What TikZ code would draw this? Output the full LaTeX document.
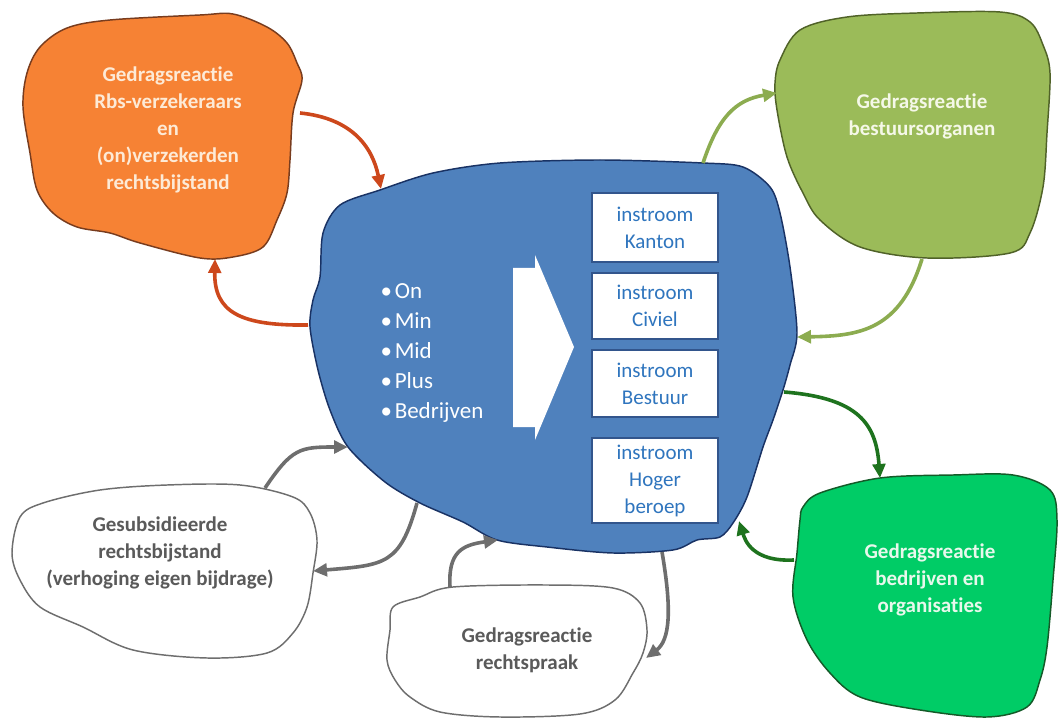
\documentclass[tikz,border=0pt]{standalone}
\usepackage{fontspec}
\setmainfont{Carlito}[Ligatures=NoCommon]
\usetikzlibrary{arrows.meta}
\definecolor{orFill}{RGB}{246,130,52}
\definecolor{orLine}{RGB}{120,60,30}
\definecolor{orText}{RGB}{253,234,214}
\definecolor{orArr}{RGB}{205,72,28}
\definecolor{olFill}{RGB}{155,187,89}
\definecolor{olLine}{RGB}{80,98,40}
\definecolor{olText}{RGB}{245,248,232}
\definecolor{olArr}{RGB}{140,172,80}
\definecolor{blFill}{RGB}{79,129,189}
\definecolor{blLine}{RGB}{25,50,100}
\definecolor{bxLine}{RGB}{50,85,140}
\definecolor{bxText}{RGB}{47,117,190}
\definecolor{grFill}{RGB}{0,204,102}
\definecolor{grLine}{RGB}{20,90,40}
\definecolor{grText}{RGB}{232,248,236}
\definecolor{grArr}{RGB}{30,115,30}
\definecolor{gyLine}{RGB}{110,110,110}
\definecolor{gyText}{RGB}{90,90,90}
\definecolor{gyArr}{RGB}{110,110,110}
\begin{document}
\begin{tikzpicture}[x=0.75pt,y=-0.75pt,
  blob/.style={line width=1.1pt},
  blobtxt/.style={align=center, font=\bfseries\fontsize{15.75}{20.25}\selectfont},
  inbox/.style={draw=bxLine, line width=1.2pt, fill=white, minimum width=94.5pt, inner sep=0pt, align=center, text=bxText, font=\fontsize{15.75}{20.25}\selectfont},
  conn/.style={line width=2.7pt, -{Triangle[length=10.5pt,width=9.5pt]}},
]
\useasboundingbox (0,0) rectangle (1060,720);
% ---------- blobs ----------
\path[blob, draw=orLine, fill=orFill] plot[smooth cycle, tension=0.55] coordinates {
 (40,47) (67,28) (110,20) (200,15) (233,14) (267,27) (287,43) (297,63) (302,80) (293,113)
 (290,160) (287,193) (277,220) (263,247) (233,257) (200,258) (140,243) (110,233) (77,227)
 (53,213) (37,190) (30,153) (23,107) (27,73)};
\path[blob, draw=olLine, fill=olFill] plot[smooth cycle, tension=0.55] coordinates {
 (780,60) (800,30) (847,17) (917,13) (1000,12) (1030,22) (1043,45) (1050,73) (1047,133) (1043,187)
 (1030,233) (1010,253) (927,258) (860,247) (820,220) (803,193) (787,157) (777,110) (775,83)};
\path[blob, draw=blLine, fill=blFill] plot[smooth cycle, tension=0.5] coordinates {
 (340,205) (380,190) (433,173) (500,163) (600,160) (703,163) (743,167) (770,187) (780,213)
 (790,267) (797,333) (790,365) (783,390) (773,420) (763,447) (747,497) (733,523) (720,537)
 (697,540) (673,550) (613,553) (547,547) (497,540) (463,522) (420,503) (385,482) (348,447)
 (330,410) (318,370) (310,327) (313,300) (320,277) (323,233)};
\path[blob, draw=grLine, fill=grFill] plot[smooth cycle, tension=0.55] coordinates {
 (803,507) (820,493) (880,478) (953,475) (1013,475) (1050,490) (1057,520) (1053,580)
 (1047,647) (1040,680) (1027,707) (987,717) (920,710) (860,697) (830,673) (807,640)
 (793,597) (797,553) (800,520)};
\path[blob, draw=gyLine, fill=white] plot[smooth cycle, tension=0.55] coordinates {
 (20,517) (43,503) (100,490) (167,485) (240,485) (293,497) (310,513) (317,540) (313,573)
 (307,607) (293,633) (267,653) (207,658) (133,650) (83,627) (40,607) (20,580) (12,553)};
\path[blob, draw=gyLine, fill=white] plot[smooth cycle, tension=0.55] coordinates {
 (393,607) (420,597) (453,587) (547,585) (613,588) (640,603) (647,630) (643,653) (633,673)
 (615,700) (580,714) (500,717) (440,712) (410,697) (395,680) (387,660) (390,630)};
% ---------- big arrow ----------
\path[fill=white] (513,268) -- (535,268) -- (535,255) -- (574,347) -- (535,440) -- (535,427) -- (513,427) -- cycle;
% ---------- texts ----------
\node[blobtxt, text=orText] (orT) at (168,130) {Gedragsreactie\\Rbs-verzekeraars\\en\\(on)verzekerden\\rechtsbijstand};
\node[blobtxt, text=olText] (olT) at (922,116) {Gedragsreactie\\bestuursorganen};
\node[blobtxt, text=grText] (grT) at (930,580) {Gedragsreactie\\bedrijven en\\organisaties};
\node[blobtxt, text=gyText] (gy1T) at (160,553) {Gesubsidieerde\\rechtsbijstand\\(verhoging eigen bijdrage)};
\node[blobtxt, text=gyText] (gy2T) at (527,650) {Gedragsreactie\\rechtspraak};
\node[align=left, text=white, font=\fontsize{17.25}{22.5}\selectfont] (list) at (432,353)
 {\textbullet\hspace{2pt}On\\\textbullet\hspace{2pt}Min\\\textbullet\hspace{2pt}Mid\\\textbullet\hspace{2pt}Plus\\\textbullet\hspace{2pt}Bedrijven};
\node[inbox, minimum height=51.75pt] (b1) at (655,227.5) {instroom\\Kanton};
\node[inbox, minimum height=49.5pt] (b2) at (655,306) {instroom\\Civiel};
\node[inbox, minimum height=50.25pt] (b3) at (655,383.5) {instroom\\Bestuur};
\node[inbox, minimum height=63.75pt] (b4) at (655,480.5) {instroom\\Hoger\\beroep};
% ---------- connector end points ----------
\coordinate (orE) at (300,113);
\coordinate (orS) at (215,259);
\coordinate (blNW) at (381,189);
\coordinate (blW) at (308,325);
\coordinate (blN) at (703,163);
\coordinate (olW) at (777,93);
\coordinate (olS) at (922,259);
\coordinate (blE) at (797,337);
\coordinate (blE2) at (784,392);
\coordinate (grN) at (880,478);
\coordinate (grW) at (794,560);
\coordinate (blSE) at (739,521);
\coordinate (gy1N) at (265,488);
\coordinate (blSW) at (348,447);
\coordinate (blS1) at (417,503);
\coordinate (gy1E) at (313,571);
\coordinate (gy2N) at (450,587);
\coordinate (blS2) at (498,540);
\coordinate (blS3) at (662,552);
\coordinate (gy2E) at (646,658);
% ---------- connectors ----------
\draw[conn, orArr] (orE) .. controls (350,118) and (372,145) .. (blNW);
\draw[conn, orArr] (blW) .. controls (240,326) and (214,312) .. (orS);
\draw[conn, olArr] (blN) .. controls (718,118) and (735,100) .. (olW);
\draw[conn, olArr] (olS) .. controls (900,330) and (860,336) .. (blE);
\draw[conn, grArr] (blE2) .. controls (860,398) and (876,425) .. (grN);
\draw[conn, grArr] (grW) .. controls (752,562) and (745,540) .. (blSE);
\draw[conn, gyArr] (gy1N) .. controls (292,448) and (300,447) .. (blSW);
\draw[conn, gyArr] (blS1) .. controls (400,565) and (385,565) .. (gy1E);
\draw[conn, gyArr] (gy2N) .. controls (448,552) and (462,545) .. (blS2);
\draw[conn, gyArr] (blS3) .. controls (672,610) and (670,640) .. (gy2E);
\end{tikzpicture}
\end{document}
